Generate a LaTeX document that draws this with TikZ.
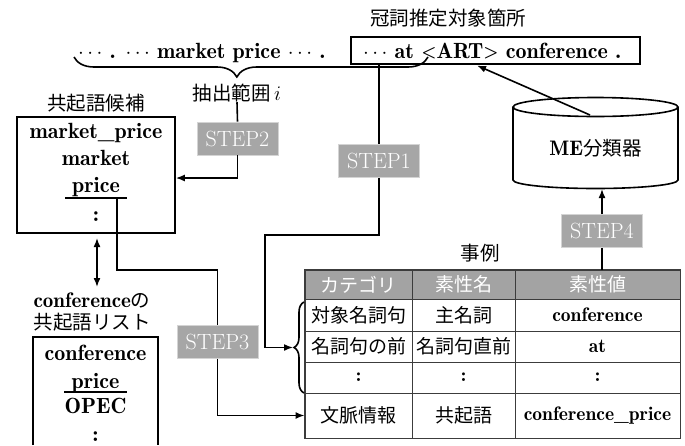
\documentclass[tikz,border=0pt]{standalone}
\usepackage{fontspec}
\newfontfamily\jpf{Noto Sans CJK JP}
\newfontfamily\lmd{lmromandemi10-regular}[Extension=.otf]
\usetikzlibrary{arrows.meta,decorations.pathreplacing,calc}
\definecolor{stepgray}{HTML}{A6A6A6}
\definecolor{stepedge}{HTML}{D4D4D4}
\definecolor{headgray}{HTML}{A3A3A3}
\definecolor{tabline}{HTML}{3C3C3C}
\newcommand{\smlt}{\raisebox{1pt}{\fontsize{17}{20}\selectfont<}}
\newcommand{\smgt}{\raisebox{1pt}{\fontsize{17}{20}\selectfont>}}
\begin{document}
\begin{tikzpicture}[x=1pt,y=-1pt,
  lat/.style={font=\lmd\fontsize{22}{25}\selectfont, inner sep=0pt},
  jp/.style={font=\jpf\fontsize{19.5}{22}\selectfont, inner sep=0pt},
  stepbox/.style={fill=stepgray, draw=stepedge, line width=0.8pt, text=white, minimum width=81pt, minimum height=33pt, inner sep=0pt, font=\fontsize{22}{24}\selectfont},
  conn/.style={line width=1.6pt},
  arr/.style={conn, -{Latex[length=9pt,width=7pt]}},
  darr/.style={conn, {Latex[length=9pt,width=7pt]}-{Latex[length=9pt,width=7pt]}},
  cell/.style={draw=tabline, line width=0.9pt, inner sep=0pt},
  hcell/.style={cell, fill=headgray, text=white, font=\jpf\fontsize{19}{22}\selectfont},
  jcell/.style={cell, font=\jpf\fontsize{19}{22}\selectfont},
  lcell/.style={cell, font=\lmd\fontsize{19.5}{22}\selectfont},
  w1/.style={minimum width=107pt},
  w2/.style={minimum width=103pt},
  w3/.style={minimum width=165pt},
  box/.style={draw, line width=1.6pt, inner sep=0pt}
]
\useasboundingbox (0,0) rectangle (685,445);

% ---- top line ----
\node[jp] (artlbl) at (448,18) {冠詞推定対象箇所};
\node[lat, anchor=base west] (ctx) at (78,58) {$\cdots$ . $\cdots$ market price $\cdots$ .};
\node[box, minimum width=289pt, minimum height=27pt] (artbox) at (495.5,50.5) {};
\node[lat, anchor=base west] (arttxt) at (363,58) {$\cdots$ at \smlt ART\smgt{} conference .};
\coordinate (brL) at (74,57);
\coordinate (brR) at (428,57);
\draw[conn, decorate, decoration={brace, mirror, amplitude=20pt, aspect=0.46}] (brL) -- (brR);
\node[jp] (ext) at (237,93) {抽出範囲\,{\fontsize{22}{24}\selectfont$i$}};

% ---- candidate box ----
\node[jp] (candlbl) at (96,103) {共起語候補};
\node[box, minimum width=158pt, minimum height=116pt] (cand) at (96,175) {};
\node[lat, anchor=base] (mp) at (96,138) {market\_price};
\node[lat, anchor=base] (mk) at (96,165) {market};
\node[lat, anchor=base] (pr) at (96,192) {price};
\node[lat, anchor=base] (dt) at (96,221) {:};
\coordinate (prUL) at (65,198);
\coordinate (prUR) at (127,198);
\coordinate (prU) at (117,198);
\draw[conn] (prUL) -- (prUR);

% ---- co-occurrence list ----
\coordinate (dA) at (97,238);
\coordinate (dB) at (97,287);
\node[jp] (cl1) at (92,300) {{\lmd\fontsize{21}{24}\selectfont conference}の};
\node[jp] (cl2) at (92,322) {共起語リスト};
\coordinate (lbA) at (33,445);
\coordinate (lbB) at (33,337);
\coordinate (lbC) at (158,337);
\coordinate (lbD) at (158,445);
\draw[conn] (lbA) -- (lbB) -- (lbC) -- (lbD);
\node[lat, anchor=base] (l1) at (95.5,360) {conference};
\node[lat, anchor=base] (l2) at (95.5,388) {price};
\node[lat, anchor=base] (l3) at (95.5,413) {OPEC};
\node[lat, anchor=base] (l4) at (95.5,441) {:};
\coordinate (l2L) at (64,392);
\coordinate (l2R) at (127,392);
\draw[conn] (l2L) -- (l2R);

% ---- classifier ----
\draw[line width=1.6pt, fill=white] (513,107) -- (513,180) arc[start angle=180, end angle=360, x radius=82.5pt, y radius=8.5pt] -- (678,107);
\draw[line width=1.6pt] (595.5,107) ellipse [x radius=82.5pt, y radius=9.5pt];
\node[jp] (me) at (595.5,148) {{\lmd\fontsize{21}{24}\selectfont ME}分類器};
\coordinate (cyltop) at (590,115);
\coordinate (cylbot) at (602,189);
\coordinate (arttgt) at (477,65.5);

% ---- table ----
\node[jp] (tlbl) at (480,253) {事例};
\node[hcell, w1, minimum height=29pt] (h1) at (358.5,284.5) {カテゴリ};
\node[hcell, w2, minimum height=29pt] (h2) at (463.5,284.5) {素性名};
\node[hcell, w3, minimum height=29pt] (h3) at (597.5,284.5) {素性値};
\node[jcell, w1, minimum height=32pt] (a1) at (358.5,315) {対象名詞句};
\node[jcell, w2, minimum height=32pt] (a2) at (463.5,315) {主名詞};
\node[lcell, w3, minimum height=32pt] (a3) at (597.5,315) {conference};
\node[jcell, w1, minimum height=31pt] (b1) at (358.5,346.5) {名詞句の前};
\node[jcell, w2, minimum height=31pt] (b2) at (463.5,346.5) {名詞句直前};
\node[lcell, w3, minimum height=31pt] (b3) at (597.5,346.5) {at};
\node[lcell, w1, minimum height=31pt] (c1) at (358.5,377.5) {:};
\node[lcell, w2, minimum height=31pt] (c2) at (463.5,377.5) {:};
\node[lcell, w3, minimum height=31pt] (c3) at (597.5,377.5) {:};
\node[jcell, w1, minimum height=45pt] (d1) at (358.5,415.5) {文脈情報};
\node[jcell, w2, minimum height=45pt] (d2) at (463.5,415.5) {共起語};
\node[lcell, w3, minimum height=45pt] (d3) at (597.5,415.5) {conference\_price};
\draw[tabline, line width=1.2pt] (h1.north west) rectangle (d3.south east);
\coordinate (tbB) at (304,393);
\coordinate (tbT) at (304,302);
\draw[conn, decorate, decoration={brace, amplitude=10pt}] (tbB) -- (tbT);
\coordinate (brtip) at (293,347.5);

% ---- steps ----
\node[stepbox] (s1) at (379,161) {STEP1};
\node[stepbox] (s2) at (237.5,138.5) {STEP2};
\node[stepbox] (s3) at (217.5,342) {STEP3};
\node[stepbox] (s4) at (602,231) {STEP4};
\coordinate (s1turn) at (265,235);
\coordinate (s3turn) at (117,270);

% ---- connectors ----
\draw[conn] (ext.south) -- (s2.north);
\draw[arr] (s2.south) |- ($(cand.east)+(0,3)$);
\draw[conn] (s1.north |- artbox.south) -- (s1.north);
\draw[arr] (s1.south) |- (s1turn) |- (brtip);
\draw[conn] (prU) -- (s3turn) -| (s3.north);
\draw[arr] (s3.south) |- (d1.west);
\draw[darr] (dA) -- (dB);
\draw[conn] (s4.south) -- (s4.south |- h3.north);
\draw[arr] (s4.north) -- (cylbot);
\draw[arr] (cyltop) -- (arttgt);
\end{tikzpicture}
\end{document}
